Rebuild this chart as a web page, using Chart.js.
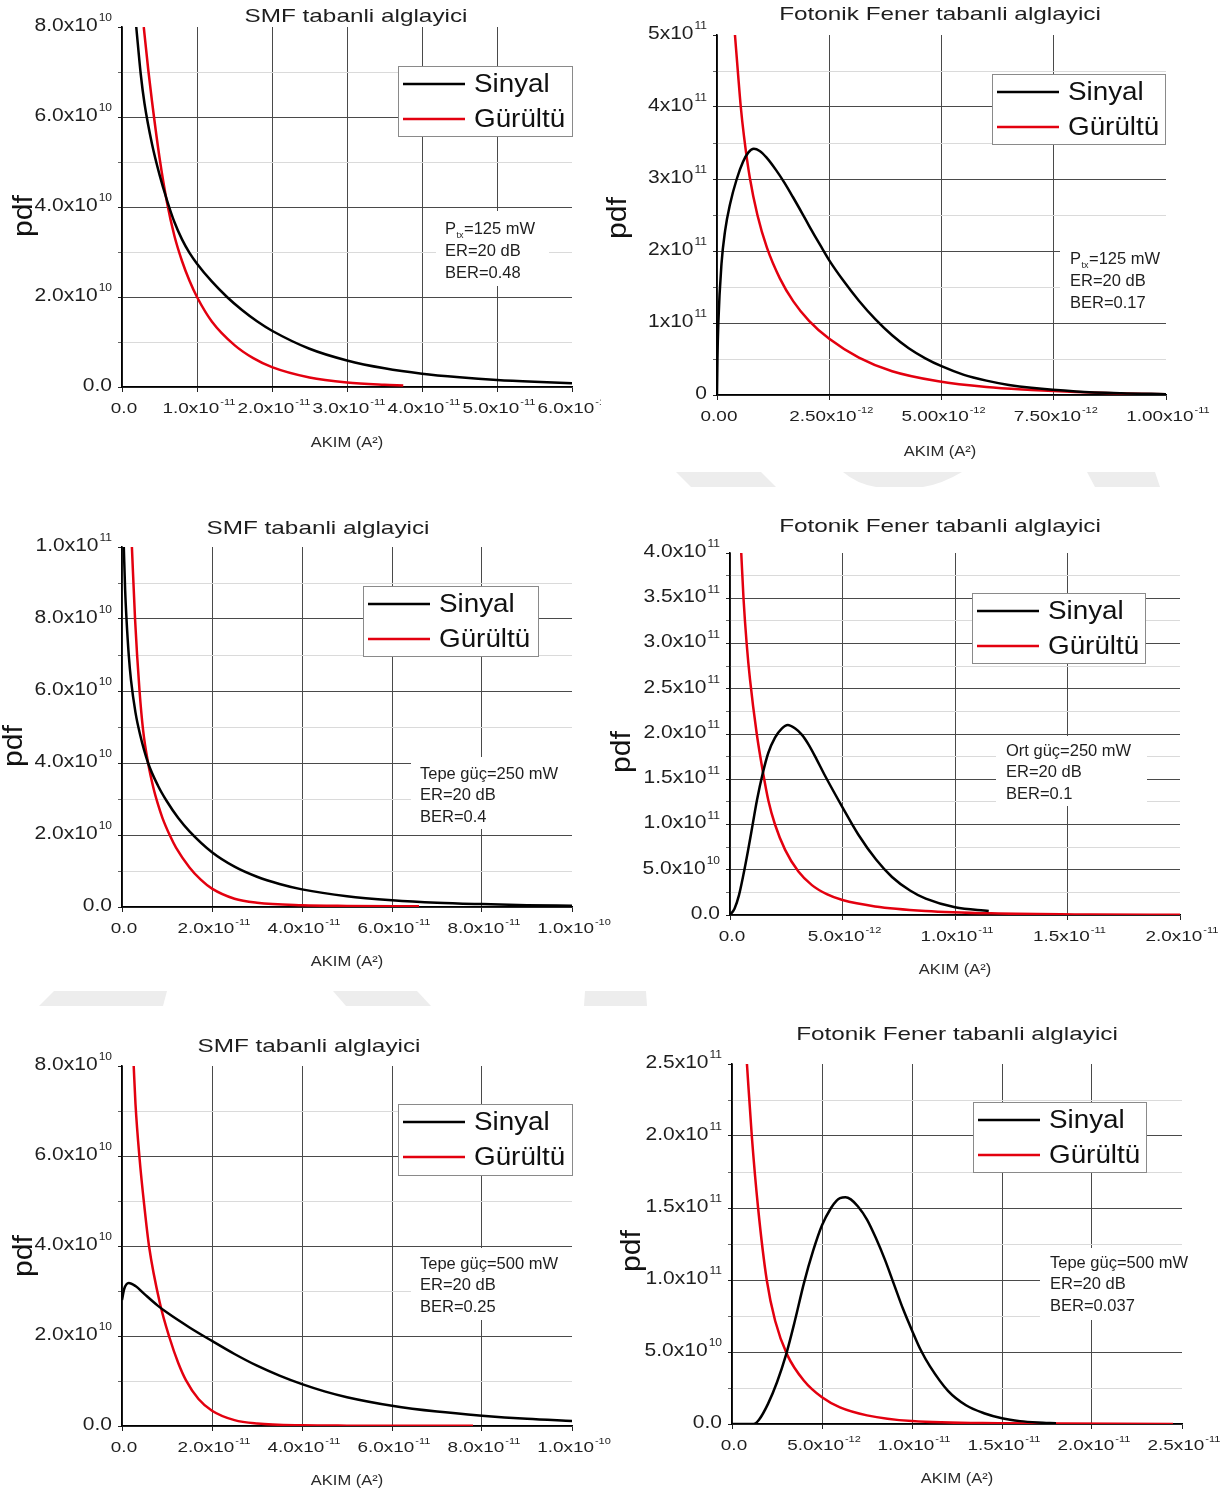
<!DOCTYPE html>
<html>
<head>
<meta charset="utf-8">
<title>pdf - Sinyal / Gürültü</title>
<script src="https://cdn.jsdelivr.net/npm/chart.js@4.4.1/dist/chart.umd.min.js"></script>
<style>
  html, body { margin: 0; padding: 0; background: #fff; }
  body { width: 1225px; height: 1494px; position: relative; overflow: hidden; }
  canvas { position: absolute; }
  #wm { position: absolute; left: 0; top: 0; }
</style>
</head>
<body>
<svg id="wm" width="1225" height="1494">
  <g fill="#ededed">
    <polygon points="676,472 761,472 776,487 691,487"/>
    <path d="M843,472 L962,472 Q942,484 923,487 L876,487 Q857,484 843,472 Z"/>
    <polygon points="1087,472 1155,472 1160,487 1095,487"/>
    <polygon points="54,991 167,991 163,1006 39,1006"/>
    <polygon points="333,991 417,991 431,1006 346,1006"/>
    <polygon points="585,991 646,991 647,1006 584,1006"/>
  </g>
</svg>
<script>
// ---- data (x: AKIM in A^2, y: pdf) ----

// SMF, 125 mW
const smf125SinyalX = [0.19e-11, 0.25e-11, 0.3e-11, 0.4e-11, 0.5e-11, 0.6e-11, 0.7e-11, 0.8e-11, 0.9e-11, 1.0e-11, 1.2e-11, 1.4e-11, 1.6e-11, 1.8e-11, 2.0e-11, 2.5e-11, 3.0e-11, 3.5e-11, 4.0e-11, 4.5e-11, 5.0e-11, 5.5e-11, 6.0e-11];
const smf125SinyalY = [8.0e10, 6.95e10, 6.3e10, 5.4e10, 4.72e10, 4.15e10, 3.66e10, 3.28e10, 2.98e10, 2.74e10, 2.34e10, 2.0e10, 1.71e10, 1.46e10, 1.25e10, 0.85e10, 0.59e10, 0.415e10, 0.295e10, 0.215e10, 0.155e10, 0.115e10, 0.085e10];
const smf125GurultuX = [0.29e-11, 0.35e-11, 0.4e-11, 0.5e-11, 0.6e-11, 0.7e-11, 0.8e-11, 0.9e-11, 1.0e-11, 1.2e-11, 1.5e-11, 1.75e-11, 2.0e-11, 2.5e-11, 3.0e-11, 3.5e-11, 3.75e-11];
const smf125GurultuY = [8.0e10, 7.05e10, 6.35e10, 5.1e10, 4.1e10, 3.35e10, 2.8e10, 2.36e10, 2.0e10, 1.45e10, 0.93e10, 0.64e10, 0.44e10, 0.21e10, 0.1e10, 0.05e10, 0.035e10];

// Fotonik Fener, 125 mW
const fener125SinyalX = [0, 0.01e-12, 0.03e-12, 0.1e-12, 0.18e-12, 0.29e-12, 0.44e-12, 0.58e-12, 0.7e-12, 0.82e-12, 0.95e-12, 1.1e-12, 1.32e-12, 1.5e-12, 1.69e-12, 1.9e-12, 2.06e-12, 2.3e-12, 2.5e-12, 2.8e-12, 3.16e-12, 3.53e-12, 3.9e-12, 4.27e-12, 4.64e-12, 5.0e-12, 5.5e-12, 6.0e-12, 6.5e-12, 7.0e-12, 8.0e-12, 9.0e-12, 10.0e-12];
const fener125SinyalY = [0, 0.5e11, 1.0e11, 1.82e11, 2.28e11, 2.65e11, 3.0e11, 3.24e11, 3.37e11, 3.42e11, 3.39e11, 3.3e11, 3.12e11, 2.95e11, 2.75e11, 2.52e11, 2.34e11, 2.08e11, 1.87e11, 1.6e11, 1.31e11, 1.05e11, 0.83e11, 0.65e11, 0.51e11, 0.4e11, 0.28e11, 0.2e11, 0.14e11, 0.1e11, 0.05e11, 0.025e11, 0.012e11];
const fener125GurultuX = [0.4e-12, 0.47e-12, 0.53e-12, 0.6e-12, 0.73e-12, 0.9e-12, 1.11e-12, 1.4e-12, 1.7e-12, 2.05e-12, 2.5e-12, 3.16e-12, 3.9e-12, 4.93e-12, 6.0e-12, 7.0e-12, 8.0e-12, 9.0e-12, 10.0e-12];
const fener125GurultuY = [5.0e11, 4.45e11, 4.0e11, 3.6e11, 3.02e11, 2.5e11, 2.05e11, 1.62e11, 1.3e11, 1.03e11, 0.78e11, 0.52e11, 0.33e11, 0.19e11, 0.11e11, 0.07e11, 0.04e11, 0.02e11, 0.01e11];

// SMF, tepe güç 250 mW
const smf250SinyalX = [0.04e-11, 0.07e-11, 0.1e-11, 0.15e-11, 0.2e-11, 0.3e-11, 0.4e-11, 0.58e-11, 0.8e-11, 1.0e-11, 1.25e-11, 1.5e-11, 2.0e-11, 2.5e-11, 3.0e-11, 3.5e-11, 4.0e-11, 5.0e-11, 6.0e-11, 7.0e-11, 8.0e-11, 9.0e-11, 10.0e-11];
const smf250SinyalY = [10e10, 8.8e10, 8.0e10, 7.0e10, 6.3e10, 5.4e10, 4.8e10, 4.0e10, 3.37e10, 2.93e10, 2.47e10, 2.1e10, 1.52e10, 1.12e10, 0.84e10, 0.64e10, 0.49e10, 0.3e10, 0.19e10, 0.12e10, 0.08e10, 0.05e10, 0.035e10];
const smf250GurultuX = [0.22e-11, 0.29e-11, 0.39e-11, 0.47e-11, 0.58e-11, 0.7e-11, 0.8e-11, 0.9e-11, 1.07e-11, 1.2e-11, 1.5e-11, 1.75e-11, 2.0e-11, 2.5e-11, 3.0e-11, 4.0e-11, 5.0e-11, 6.6e-11];
const smf250GurultuY = [10e10, 8.0e10, 6.0e10, 4.9e10, 4.0e10, 3.3e10, 2.85e10, 2.47e10, 1.97e10, 1.65e10, 1.1e10, 0.76e10, 0.51e10, 0.23e10, 0.12e10, 0.05e10, 0.03e10, 0.02e10];

// Fotonik Fener, ort güç 250 mW
const fener250SinyalX = [0, 0.2e-12, 0.4e-12, 0.6e-12, 0.8e-12, 1.0e-12, 1.2e-12, 1.45e-12, 1.7e-12, 2.0e-12, 2.3e-12, 2.57e-12, 2.9e-12, 3.2e-12, 3.5e-12, 3.85e-12, 4.2e-12, 5.0e-12, 5.7e-12, 6.5e-12, 7.2e-12, 8.0e-12, 8.7e-12, 10.0e-12, 11.5e-12];
const fener250SinyalY = [0, 0.07e11, 0.22e11, 0.45e11, 0.71e11, 0.99e11, 1.27e11, 1.56e11, 1.79e11, 1.96e11, 2.06e11, 2.1e11, 2.06e11, 1.99e11, 1.88e11, 1.72e11, 1.55e11, 1.19e11, 0.89e11, 0.61e11, 0.42e11, 0.27e11, 0.18e11, 0.085e11, 0.045e11];
const fener250GurultuX = [0.5e-12, 0.6e-12, 0.74e-12, 0.89e-12, 1.19e-12, 1.45e-12, 1.71e-12, 2.0e-12, 2.45e-12, 3.04e-12, 3.64e-12, 4.3e-12, 5.0e-12, 6.45e-12, 8.7e-12, 11.6e-12, 16e-12, 20e-12];
const fener250GurultuY = [4.0e11, 3.5e11, 3.0e11, 2.6e11, 2.0e11, 1.6e11, 1.26e11, 1.0e11, 0.72e11, 0.48e11, 0.33e11, 0.23e11, 0.165e11, 0.095e11, 0.045e11, 0.018e11, 0.005e11, 0.002e11];

// SMF, tepe güç 500 mW
const smf500SinyalX = [0, 0.05e-11, 0.15e-11, 0.3e-11, 0.5e-11, 0.8e-11, 1.0e-11, 1.5e-11, 2.0e-11, 2.5e-11, 3.0e-11, 3.5e-11, 4.0e-11, 4.5e-11, 5.0e-11, 6.0e-11, 7.0e-11, 8.0e-11, 9.0e-11, 10.0e-11];
const smf500SinyalY = [2.8e10, 3.05e10, 3.18e10, 3.11e10, 2.93e10, 2.67e10, 2.52e10, 2.19e10, 1.89e10, 1.6e10, 1.34e10, 1.12e10, 0.93e10, 0.77e10, 0.64e10, 0.45e10, 0.32e10, 0.23e10, 0.16e10, 0.11e10];
const smf500GurultuX = [0.26e-11, 0.3e-11, 0.39e-11, 0.5e-11, 0.6e-11, 0.84e-11, 1.06e-11, 1.25e-11, 1.42e-11, 1.7e-11, 2.0e-11, 2.5e-11, 3.0e-11, 4.0e-11, 5.0e-11, 7.8e-11];
const smf500GurultuY = [8.0e10, 7.15e10, 5.95e10, 4.85e10, 4.0e10, 2.74e10, 1.95e10, 1.4e10, 1.02e10, 0.6e10, 0.34e10, 0.13e10, 0.055e10, 0.015e10, 0.008e10, 0.005e10];

// Fotonik Fener, tepe güç 500 mW
const fener500SinyalX = [0, 1.2e-12, 1.5e-12, 2.0e-12, 2.5e-12, 3.0e-12, 3.5e-12, 4.0e-12, 4.5e-12, 5.0e-12, 5.5e-12, 5.8e-12, 6.0e-12, 6.3e-12, 6.6e-12, 7.0e-12, 7.5e-12, 8.0e-12, 8.5e-12, 9.0e-12, 9.5e-12, 10e-12, 10.5e-12, 11e-12, 12e-12, 13e-12, 14e-12, 15e-12, 16e-12, 17e-12, 18e-12];
const fener500SinyalY = [0, 0, 0.03e11, 0.14e11, 0.29e11, 0.48e11, 0.72e11, 0.98e11, 1.2e11, 1.38e11, 1.5e11, 1.55e11, 1.568e11, 1.575e11, 1.56e11, 1.51e11, 1.42e11, 1.29e11, 1.14e11, 0.97e11, 0.8e11, 0.65e11, 0.51e11, 0.4e11, 0.23e11, 0.13e11, 0.075e11, 0.04e11, 0.02e11, 0.01e11, 0.005e11];
const fener500GurultuX = [0.83e-12, 1.1e-12, 1.45e-12, 1.93e-12, 2.4e-12, 3.07e-12, 4.0e-12, 5.0e-12, 6.0e-12, 7.5e-12, 10e-12, 15e-12, 24.5e-12];
const fener500GurultuY = [2.5e11, 2.0e11, 1.5e11, 1.0e11, 0.715e11, 0.48e11, 0.3e11, 0.185e11, 0.115e11, 0.06e11, 0.02e11, 0.005e11, 0];

// ---- tick labels ("^" = superscript) ----
const smf125XLabels = ["0.0", "1.0x10^-11", "2.0x10^-11", "3.0x10^-11", "4.0x10^-11", "5.0x10^-11", "6.0x10^-11"];
const smf125YLabels = ["0.0", "2.0x10^10", "4.0x10^10", "6.0x10^10", "8.0x10^10"];
const fener125XLabels = ["0.00", "2.50x10^-12", "5.00x10^-12", "7.50x10^-12", "1.00x10^-11"];
const fener125YLabels = ["0", "1x10^11", "2x10^11", "3x10^11", "4x10^11", "5x10^11"];
const smfXLabels100 = ["0.0", "2.0x10^-11", "4.0x10^-11", "6.0x10^-11", "8.0x10^-11", "1.0x10^-10"];
const smf250YLabels = ["0.0", "2.0x10^10", "4.0x10^10", "6.0x10^10", "8.0x10^10", "1.0x10^11"];
const fener250XLabels = ["0.0", "5.0x10^-12", "1.0x10^-11", "1.5x10^-11", "2.0x10^-11"];
const fener250YLabels = ["0.0", "5.0x10^10", "1.0x10^11", "1.5x10^11", "2.0x10^11", "2.5x10^11", "3.0x10^11", "3.5x10^11", "4.0x10^11"];
const smf500YLabels = ["0.0", "2.0x10^10", "4.0x10^10", "6.0x10^10", "8.0x10^10"];
const fener500XLabels = ["0.0", "5.0x10^-12", "1.0x10^-11", "1.5x10^-11", "2.0x10^-11", "2.5x10^-11"];
const fener500YLabels = ["0.0", "5.0x10^10", "1.0x10^11", "1.5x10^11", "2.0x10^11", "2.5x10^11"];

// ---- texts ----
const smfTitle = "SMF tabanli alglayici";
const fenerTitle = "Fotonik Fener tabanli alglayici";
const seriesNames = ["Sinyal", "Gürültü"];
const smf125Notes = ["P_{tx}=125 mW", "ER=20 dB", "BER=0.48"];
const fener125Notes = ["P_{tx}=125 mW", "ER=20 dB", "BER=0.17"];
const smf250Notes = ["Tepe güç=250 mW", "ER=20 dB", "BER=0.4"];
const fener250Notes = ["Ort güç=250 mW", "ER=20 dB", "BER=0.1"];
const smf500Notes = ["Tepe güç=500 mW", "ER=20 dB", "BER=0.25"];
const fener500Notes = ["Tepe güç=500 mW", "ER=20 dB", "BER=0.037"];

const FONT = '"Liberation Sans", Arial, sans-serif';
const RED = '#e3000f';

// layout of the six panels, all in page pixels
// canvas: [left, top, w, h]; area: [left, top, right, bottom]
const panels = [
  { canvas: [0, 0, 601, 470], area: [122, 27, 572, 387], xMax: 6e-11, xStep: 1e-11, yMax: 8e10, yStep: 2e10,
    xLabels: smf125XLabels, yLabels: smf125YLabels, title: smfTitle, titlePos: [356, 17],
    pdfPos: [24, 216], akimPos: [347, 443], legend: [398, 66, 174, 70],
    notes: smf125Notes, noteBox: [436, 211, 113, 75], notePos: [445, 229, 22],
    sig: [smf125SinyalX, smf125SinyalY], noise: [smf125GurultuX, smf125GurultuY] },
  { canvas: [606, 0, 619, 470], area: [717, 35, 1166, 395], xMax: 1e-11, xStep: 2.5e-12, yMax: 5e11, yStep: 1e11,
    xLabels: fener125XLabels, yLabels: fener125YLabels, title: fenerTitle, titlePos: [940, 15],
    pdfPos: [618, 218], akimPos: [940, 452], legend: [992, 74, 173, 70],
    notes: fener125Notes, noteBox: [1060, 240, 112, 73], notePos: [1070, 259, 22],
    sig: [fener125SinyalX, fener125SinyalY], noise: [fener125GurultuX, fener125GurultuY] },
  { canvas: [0, 495, 612, 495], area: [122, 547, 572, 907], xMax: 1e-10, xStep: 2e-11, yMax: 1e11, yStep: 2e10,
    xLabels: smfXLabels100, yLabels: smf250YLabels, title: smfTitle, titlePos: [318, 529],
    pdfPos: [14, 746], akimPos: [347, 962], legend: [363, 586, 175, 70],
    notes: smf250Notes, noteBox: [411, 757, 161, 72], notePos: [420, 774, 21.5],
    sig: [smf250SinyalX, smf250SinyalY], noise: [smf250GurultuX, smf250GurultuY] },
  { canvas: [606, 495, 619, 495], area: [730, 553, 1180, 915], xMax: 2e-11, xStep: 5e-12, yMax: 4e11, yStep: 0.5e11,
    xLabels: fener250XLabels, yLabels: fener250YLabels, title: fenerTitle, titlePos: [940, 527],
    pdfPos: [622, 752], akimPos: [955, 970], legend: [972, 593, 173, 70],
    notes: fener250Notes, noteBox: [996, 736, 151, 70], notePos: [1006, 751, 21.5],
    sig: [fener250SinyalX, fener250SinyalY], noise: [fener250GurultuX, fener250GurultuY] },
  { canvas: [0, 1015, 612, 479], area: [122, 1066, 572, 1426], xMax: 1e-10, xStep: 2e-11, yMax: 8e10, yStep: 2e10,
    xLabels: smfXLabels100, yLabels: smf500YLabels, title: smfTitle, titlePos: [309, 1047],
    pdfPos: [24, 1256], akimPos: [347, 1481], legend: [398, 1104, 174, 71],
    notes: smf500Notes, noteBox: [411, 1248, 161, 72], notePos: [420, 1264, 21.5],
    sig: [smf500SinyalX, smf500SinyalY], noise: [smf500GurultuX, smf500GurultuY] },
  { canvas: [606, 1015, 619, 479], area: [732, 1064, 1182, 1424], xMax: 2.5e-11, xStep: 5e-12, yMax: 2.5e11, yStep: 0.5e11,
    xLabels: fener500XLabels, yLabels: fener500YLabels, title: fenerTitle, titlePos: [957, 1035],
    pdfPos: [632, 1251], akimPos: [957, 1479], legend: [973, 1102, 173, 70],
    notes: fener500Notes, noteBox: [1040, 1248, 142, 72], notePos: [1050, 1263, 21.5],
    sig: [fener500SinyalX, fener500SinyalY], noise: [fener500GurultuX, fener500GurultuY] }
];

// draw text squeezed/stretched horizontally by sx (the source figure is stretched)
function stretchText(ctx, str, x, y, sx, align) {
  const w = ctx.measureText(str).width * sx;
  let x0 = x;
  if (align === 'center') x0 = x - w / 2;
  else if (align === 'right') x0 = x - w;
  ctx.save();
  ctx.translate(x0, y);
  ctx.scale(sx, 1);
  ctx.textAlign = 'left';
  ctx.fillText(str, 0, 0);
  ctx.restore();
  return w;
}

// "2.0x10^10" -> base with a small raised exponent
function sciLabel(ctx, label, x, y, size, sx, align) {
  const parts = label.split('^');
  const base = parts[0], exp = parts[1];
  const es = Math.round(size * 0.58);
  ctx.font = size + 'px ' + FONT;
  const bw = ctx.measureText(base).width * sx;
  ctx.font = es + 'px ' + FONT;
  const ew = exp ? ctx.measureText(exp).width * sx + 1 : 0;
  const total = bw + ew;
  const x0 = align === 'right' ? x - total : align === 'center' ? x - total / 2 : x;
  ctx.font = size + 'px ' + FONT;
  stretchText(ctx, base, x0, y, sx, 'left');
  if (exp) {
    ctx.font = es + 'px ' + FONT;
    stretchText(ctx, exp, x0 + bw + 1, y - size * 0.42, sx, 'left');
  }
}

// "P_{tx}=125 mW" -> P with subscript
function noteLine(ctx, line, x, y) {
  const m = line.match(/^(.*)_\{(.*)\}(.*)$/);
  ctx.font = '16.5px ' + FONT;
  if (!m) { stretchText(ctx, line, x, y, 1.0, 'left'); return; }
  let w = stretchText(ctx, m[1], x, y, 1.0, 'left');
  ctx.font = '9px ' + FONT;
  const sw = stretchText(ctx, m[2], x + w + 0.5, y + 7, 1.0, 'left');
  ctx.font = '16.5px ' + FONT;
  stretchText(ctx, m[3], x + w + sw + 1, y, 1.0, 'left');
}

function makeFigurePlugin(p) {
  return {
    id: 'figure',
    afterDraw(chart) {
      const ctx = chart.ctx;
      const xs = chart.scales.x, ys = chart.scales.y;
      ctx.save();
      ctx.translate(-p.canvas[0], -p.canvas[1]); // page coordinates from here on
      ctx.textBaseline = 'middle';
      ctx.fillStyle = '#1e1e1e';

      // tick labels
      p.yLabels.forEach((lab, i) => {
        const py = ys.getPixelForValue(i * p.yStep) + p.canvas[1];
        sciLabel(ctx, lab, p.area[0] - 10, py - 1, 17.5, 1.2, 'right');
      });
      p.xLabels.forEach((lab, i) => {
        const px = xs.getPixelForValue(i * p.xStep) + p.canvas[0];
        sciLabel(ctx, lab, px + 2, p.area[3] + 22, 15.5, 1.22, 'center');
      });

      // title, axis titles
      ctx.font = '19px ' + FONT;
      stretchText(ctx, p.title, p.titlePos[0], p.titlePos[1], 1.28, 'center');
      ctx.font = '15px ' + FONT;
      ctx.fillStyle = '#2a2a2a';
      stretchText(ctx, 'AKIM (A²)', p.akimPos[0], p.akimPos[1], 1.1, 'center');
      ctx.save();
      ctx.translate(p.pdfPos[0], p.pdfPos[1]);
      ctx.rotate(-Math.PI / 2);
      ctx.font = '28px ' + FONT;
      ctx.fillStyle = '#111';
      stretchText(ctx, 'pdf', 0, 0, 1.08, 'center');
      ctx.restore();

      // note box
      const nb = p.noteBox;
      ctx.fillStyle = '#fff';
      ctx.fillRect(nb[0], nb[1], nb[2], nb[3]);
      ctx.fillStyle = '#1e1e1e';
      p.notes.forEach((line, i) => noteLine(ctx, line, p.notePos[0], p.notePos[1] + i * p.notePos[2]));

      // legend
      const lg = p.legend;
      ctx.fillStyle = '#fff';
      ctx.fillRect(lg[0], lg[1], lg[2], lg[3]);
      ctx.strokeStyle = '#8a8a8a';
      ctx.lineWidth = 1;
      ctx.strokeRect(lg[0] + 0.5, lg[1] + 0.5, lg[2], lg[3]);
      chart.data.datasets.forEach((ds, i) => {
        const cy = lg[1] + 18 + i * 35;
        ctx.strokeStyle = ds.borderColor;
        ctx.lineWidth = 2.6;
        ctx.beginPath();
        ctx.moveTo(lg[0] + 5, cy);
        ctx.lineTo(lg[0] + 67, cy);
        ctx.stroke();
        ctx.fillStyle = '#111';
        ctx.font = '26px ' + FONT;
        stretchText(ctx, ds.label, lg[0] + 76, cy + 1, 1.07, 'left');
      });
      ctx.restore();
    }
  };
}

function toPoints(xs, ys) {
  return xs.map((x, i) => ({ x: x, y: ys[i] }));
}

const MAJOR = '#4a4a4a';
const MINOR = '#dadada';

panels.forEach(p => {
  const c = document.createElement('canvas');
  c.width = p.canvas[2];
  c.height = p.canvas[3];
  c.style.left = p.canvas[0] + 'px';
  c.style.top = p.canvas[1] + 'px';
  document.body.appendChild(c);

  new Chart(c.getContext('2d'), {
    type: 'line',
    data: {
      datasets: [
        { label: seriesNames[0], data: toPoints(p.sig[0], p.sig[1]), borderColor: '#000', borderWidth: 2.5,
          pointRadius: 0, fill: false, cubicInterpolationMode: 'monotone' },
        { label: seriesNames[1], data: toPoints(p.noise[0], p.noise[1]), borderColor: RED, borderWidth: 2.5,
          pointRadius: 0, fill: false, cubicInterpolationMode: 'monotone' }
      ]
    },
    options: {
      responsive: false,
      animation: false,
      events: [],
      layout: {
        autoPadding: false,
        padding: { left: 0, top: p.area[1] - p.canvas[1], right: p.canvas[0] + p.canvas[2] - p.area[2], bottom: 0 }
      },
      plugins: { legend: { display: false }, tooltip: { enabled: false } },
      scales: {
        x: {
          type: 'linear', min: 0, max: p.xMax,
          ticks: { display: false, stepSize: p.xStep },
          grid: {
            color: ctx => ctx.index === ctx.scale.ticks.length - 1 ? 'rgba(0,0,0,0)' : MAJOR,
            lineWidth: 1, drawTicks: true, tickLength: 5, tickColor: '#222'
          },
          border: { display: true, color: '#000', width: 1.6 },
          afterFit: s => { s.height = p.canvas[1] + p.canvas[3] - p.area[3]; }
        },
        y: {
          type: 'linear', min: 0, max: p.yMax,
          ticks: { display: false, stepSize: p.yStep / 2 },
          grid: {
            color: ctx => ctx.index === ctx.scale.ticks.length - 1 ? 'rgba(0,0,0,0)' : (ctx.index % 2 === 0 ? MAJOR : MINOR),
            lineWidth: 1, drawTicks: true, tickLength: 4,
            tickColor: ctx => ctx.index % 2 === 0 ? '#222' : '#666'
          },
          border: { display: true, color: '#000', width: 1.6 },
          afterFit: s => { s.width = p.area[0] - p.canvas[0]; }
        }
      }
    },
    plugins: [makeFigurePlugin(p)]
  });
});
</script>
</body>
</html>
